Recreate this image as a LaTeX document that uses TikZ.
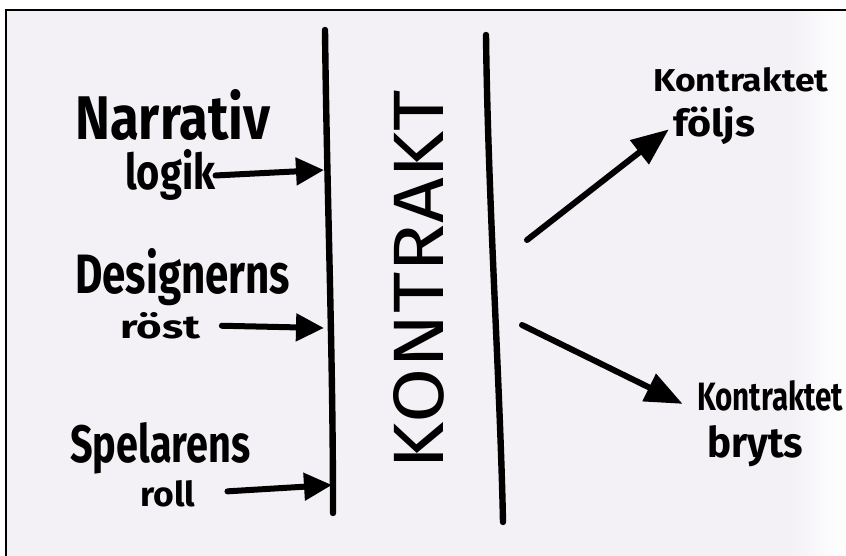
\documentclass[tikz,border=0pt]{standalone}
\usepackage{fontspec}
\setmainfont{Fira Sans}
\usepackage{graphicx}
\usetikzlibrary{arrows.meta}
\definecolor{paper}{HTML}{F4F1F6}
\newlength\pxl
\setlength\pxl{0.75pt}
\newcommand\hw[3]{\resizebox{#1\pxl}{#2\pxl}{#3}}
\begin{document}
\begin{tikzpicture}[x=0.75pt,y=-0.75pt,
  ink/.style={line width=4.8pt, line cap=round, draw=black},
  arr/.style={line width=4.5pt, line cap=round, draw=black, -{Triangle[length=21pt,width=20pt]}},
  bigarr/.style={line width=4.5pt, line cap=round, draw=black, -{Triangle[length=28pt,width=22pt]}},
  lbl/.style={inner sep=0pt, anchor=base west, font=\bfseries},
  biglbl/.style={inner sep=0pt, anchor=base west, font=\mdseries},
]
\useasboundingbox (0,0) rectangle (846,556);
\fill[white] (0,0) rectangle (846,556);
\fill[paper] (6,10) rectangle (846,556);
\shade[left color=paper, right color=white] (790,10) rectangle (846,556);
\draw[line width=1pt] (6,556) -- (6,10) -- (846,10);

% left labels
\node[lbl] (narr) at (75,140) {\hw{195}{50}{Narrativ}};
\node[lbl] (logik) at (125,190) {\hw{90}{40}{logik}};
\node[lbl] (design) at (75,293) {\hw{215}{45}{Designerns}};
\node[lbl] (rost) at (120,338) {\hw{80}{26}{röst}};
\node[lbl] (spel) at (70,462) {\hw{180}{40}{Spelarens}};
\node[lbl] (roll) at (140,506) {\hw{55}{26}{roll}};

% central column
\coordinate (l1t) at (325,30);
\coordinate (l1b) at (333,513);
\coordinate (r1t) at (486,35);
\coordinate (r1b) at (503,522);
\draw[ink] (l1t) .. controls (327,200) and (333,350) .. (l1b);
\draw[ink] (r1t) .. controls (488,200) and (500,380) .. (r1b);
\node[biglbl, rotate=90] (kontrakt) at (443,470) {\hw{380}{50}{KONTRAKT}};

% right labels
\node[lbl] (kf) at (653,92) {\hw{175}{24}{Kontraktet}};
\node[lbl] (folj) at (673,137) {\hw{82}{30}{följs}};
\node[lbl] (kb) at (697,410) {\hw{146}{30}{Kontraktet}};
\node[lbl] (bryts) at (707,457) {\hw{96}{32}{bryts}};

% arrows in
\coordinate (e1) at (324,170);
\coordinate (e2) at (324,328);
\coordinate (e3) at (332,485);
\draw[arr] (logik.east) -- (e1);
\draw[arr, shorten <=16pt] (rost.east) -- (e2);
\draw[arr, shorten <=24pt] (roll.east) -- (e3);

% arrows out
\coordinate (s4) at (527,240);
\coordinate (s5) at (522,325);
\draw[bigarr, shorten >=4pt] (s4) -- (folj.west);
\draw[bigarr, shorten >=12pt] (s5) -- (kb.south west);
\end{tikzpicture}
\end{document}
